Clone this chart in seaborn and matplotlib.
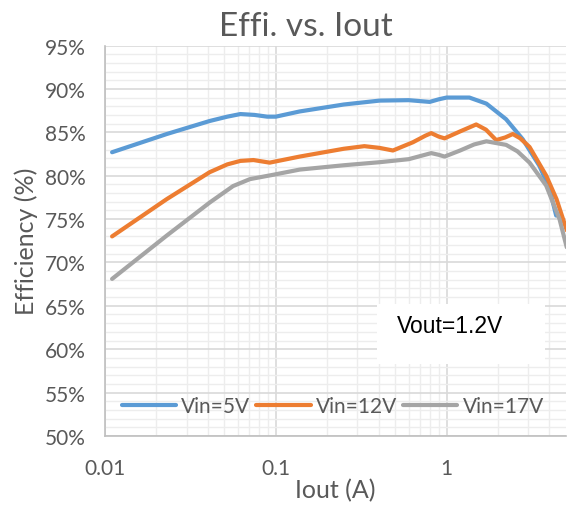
import numpy as np
import pandas as pd
import seaborn as sns
import matplotlib.pyplot as plt
from matplotlib.patches import Rectangle
from matplotlib.ticker import FixedLocator, FuncFormatter, NullFormatter

# DATA
iout_5v = [0.011, 0.023, 0.041, 0.052, 0.062, 0.075, 0.089, 0.1, 0.138, 0.25, 0.405, 0.6, 0.796, 0.9, 1.0, 1.36, 1.71, 2.23, 2.79, 3.5, 4.0, 4.38]
eff_5v = [82.7, 84.8, 86.3, 86.8, 87.1, 87.0, 86.8, 86.8, 87.4, 88.2, 88.65, 88.7, 88.5, 88.8, 89.0, 89.0, 88.3, 86.5, 84.2, 81.1, 78.5, 75.4]

iout_12v = [0.011, 0.023, 0.041, 0.052, 0.062, 0.074, 0.092, 0.138, 0.25, 0.33, 0.405, 0.485, 0.635, 0.75, 0.813, 0.9, 0.973, 1.2, 1.49, 1.7, 1.95, 2.2, 2.44, 2.7, 3.06, 3.83, 4.4, 5.05]
eff_12v = [73.0, 77.3, 80.4, 81.3, 81.7, 81.8, 81.5, 82.2, 83.1, 83.4, 83.2, 82.9, 83.85, 84.6, 84.9, 84.5, 84.3, 85.1, 85.9, 85.3, 84.1, 84.4, 84.8, 84.3, 83.3, 80.0, 77.3, 73.7]

iout_17v = [0.011, 0.023, 0.041, 0.0562, 0.0705, 0.0964, 0.138, 0.25, 0.405, 0.6, 0.813, 0.9, 0.973, 1.2, 1.45, 1.71, 2.23, 2.6, 3.06, 3.83, 4.58, 5.05]
eff_17v = [68.1, 73.1, 76.9, 78.8, 79.6, 80.1, 80.7, 81.2, 81.55, 81.9, 82.6, 82.4, 82.2, 82.9, 83.6, 83.96, 83.55, 82.8, 81.5, 78.85, 75.0, 71.75]

series_names = ["Vin=5V", "Vin=12V", "Vin=17V"]
colors = ["#5B9BD5", "#ED7D31", "#A5A5A5"]

frames = []
for name, xs, ys in zip(series_names, [iout_5v, iout_12v, iout_17v], [eff_5v, eff_12v, eff_17v]):
    frames.append(pd.DataFrame({"Iout": xs, "Eff": ys, "Vin": name}))
df = pd.concat(frames, ignore_index=True)

# STYLE
sns.set_theme(style="white")
plt.rcParams['font.family'] = ['Lato', 'DejaVu Sans']
txt_color = "#595959"

fig = plt.figure(figsize=(5.72, 5.06), dpi=100)
ax = fig.add_axes([0.1836, 0.1364, 0.8059, 0.7717])

sns.lineplot(data=df, x="Iout", y="Eff", hue="Vin", palette=colors, linewidth=3.0,
             ax=ax, sort=False, estimator=None)
for ln in ax.get_lines():
    ln.set_solid_joinstyle("round")
    ln.set_solid_capstyle("round")

ax.set_xscale("log")
ax.set_xlim(0.01, 5)
ax.set_ylim(50, 95)

# grid like excel
ax.yaxis.set_major_locator(FixedLocator(np.arange(50, 96, 5)))
ax.yaxis.set_minor_locator(FixedLocator(np.arange(50, 96, 1)))
minor_x = [m * d for d in [0.01, 0.1, 1] for m in range(2, 10) if m * d < 5]
ax.xaxis.set_major_locator(FixedLocator([0.01, 0.1, 1]))
ax.xaxis.set_minor_locator(FixedLocator(minor_x))
ax.xaxis.set_major_formatter(FuncFormatter(lambda v, p: "{:g}".format(v)))
ax.xaxis.set_minor_formatter(NullFormatter())
ax.yaxis.set_major_formatter(FuncFormatter(lambda v, p: "{:.0f}%".format(v)))

ax.grid(which="major", color="#D9D9D9", linewidth=1.2)
ax.grid(which="minor", color="#EDEDED", linewidth=1.0)
ax.set_axisbelow(True)
for side in ["top", "right"]:
    ax.spines[side].set_visible(False)
for side in ["left", "bottom"]:
    ax.spines[side].set_color("#BFBFBF")
    ax.spines[side].set_linewidth(1.2)
ax.tick_params(which="both", length=0, colors=txt_color, labelsize=15)
ax.tick_params(axis="y", pad=14)
ax.tick_params(axis="x", pad=16)

ax.set_xlabel("Iout (A)", fontsize=18, color=txt_color, labelpad=0)
ax.set_ylabel("Efficiency (%)", fontsize=18, color=txt_color, labelpad=5)
fig.text(0.535, 0.947, "Effi. vs. Iout", ha="center", va="center", fontsize=24, color=txt_color)

leg = ax.legend(loc="center", bbox_to_anchor=(0.494, 0.077), ncol=3, frameon=False,
                fontsize=15, handlelength=2.6, columnspacing=0.3, handletextpad=0.25,
                borderaxespad=0, borderpad=0)
for t in leg.get_texts():
    t.set_color(txt_color)
for h in leg.get_lines():
    h.set_linewidth(3.0)

# Vout text box
ax.add_patch(Rectangle((0.59, 0.184), 0.364, 0.154, transform=ax.transAxes,
                       facecolor="white", edgecolor="none", zorder=3))
ax.text(0.633, 0.282, "Vout=1.2V", transform=ax.transAxes, ha="left", va="center",
        fontsize=16.5, color="black", family=["Liberation Sans Narrow", "Liberation Sans"], zorder=4)

plt.savefig("out.png", dpi=100)
plt.close()
